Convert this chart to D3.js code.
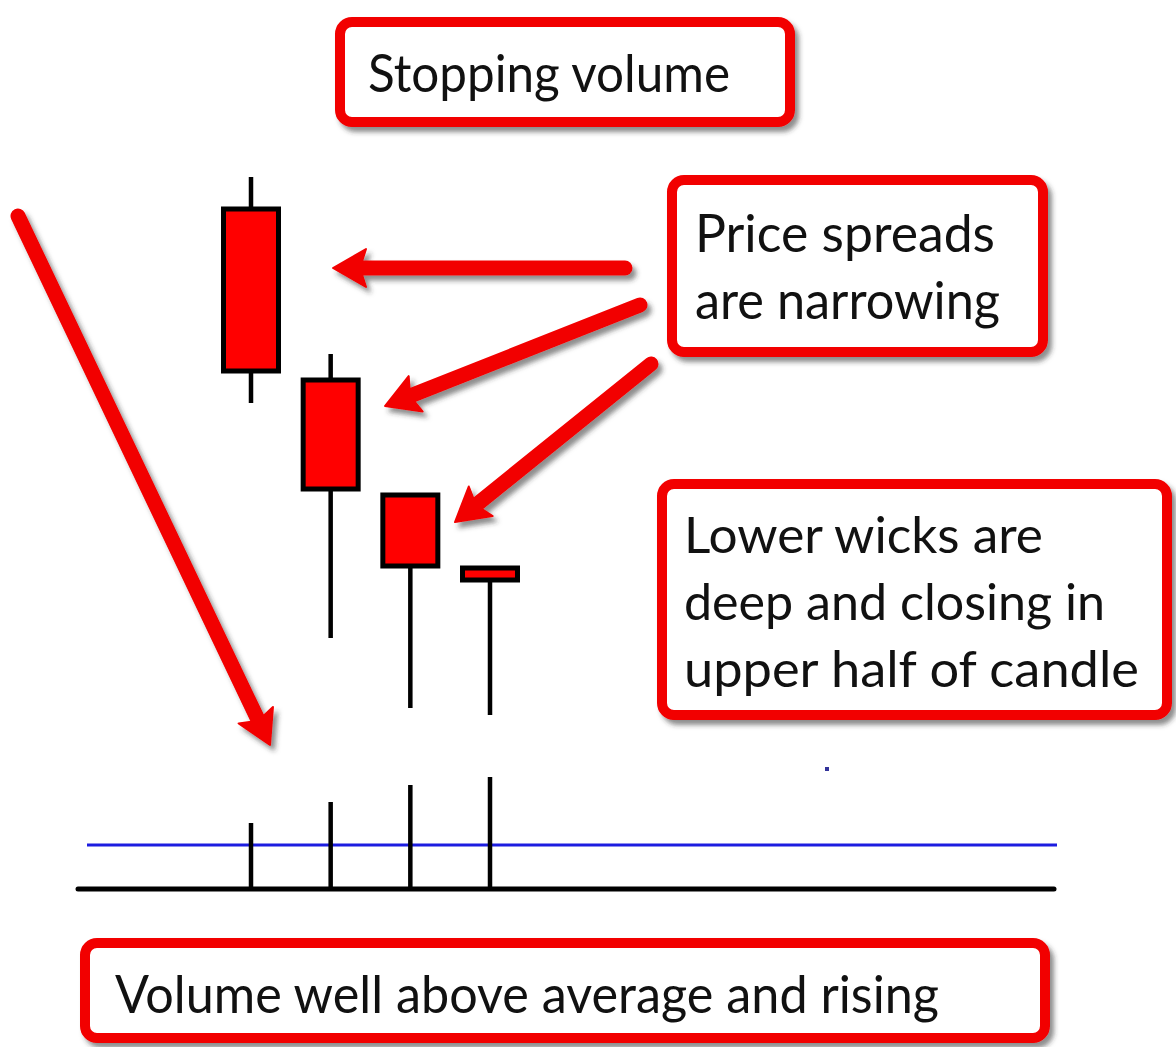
<!DOCTYPE html>
<html>
<head>
<meta charset="utf-8">
<script src="https://cdn.jsdelivr.net/npm/d3@7"></script>
<style>
  html, body { margin: 0; padding: 0; background: #fff; }
  svg { display: block; }
  .note { font-family: "Comic Sans MS", "Lato", "Open Sans", sans-serif; fill: #111; }
</style>
</head>
<body>
<script>
// Four bearish bars closing into a stopping-volume climax
const bars = ["Bar 1", "Bar 2", "Bar 3", "Bar 4"];
const openPrices  = [591, 420, 305, 232];
const closePrices = [429, 311, 234, 220];
const highPrices  = [623, 446, 305, 232];
const lowPrices   = [397, 162, 92, 85];
const volumes     = [66, 87, 104, 112];
const averageVolume = 44;

// Callout texts
const titleLines   = ["Stopping volume"];
const spreadLines  = ["Price spreads", "are narrowing"];
const wickLines    = ["Lower wicks are", "deep and closing in", "upper half of candle"];
const volumeLines  = ["Volume well above average and rising"];

const W = 1176, H = 1047;
const RED = "#f20000";

const svg = d3.select("body").append("svg")
  .attr("width", W).attr("height", H)
  .attr("viewBox", `0 0 ${W} ${H}`);

svg.append("rect").attr("width", W).attr("height", H).attr("fill", "#fff");

// soft drop shadow used by callouts and arrows
const defs = svg.append("defs");
const f = defs.append("filter").attr("id", "shadow")
  .attr("x", "-10%").attr("y", "-10%").attr("width", "130%").attr("height", "130%");
f.append("feDropShadow").attr("dx", 4).attr("dy", 5).attr("stdDeviation", 2.5)
  .attr("flood-color", "#333").attr("flood-opacity", 0.55);

// scales
const x = d3.scalePoint().domain(bars).range([251, 490]);
const yPrice = d3.scaleLinear().domain([0, 650]).range([800, 150]);
const yVol = d3.scaleLinear().domain([0, 150]).range([889, 739]);
const bodyW = 55;

// ---- volume panel ----
const volG = svg.append("g");
volG.append("line")
  .attr("x1", 87).attr("x2", 1057)
  .attr("y1", yVol(averageVolume)).attr("y2", yVol(averageVolume))
  .attr("stroke", "#1c1ce0").attr("stroke-width", 3);

volG.selectAll("line.vol").data(volumes).join("line")
  .attr("class", "vol")
  .attr("x1", (d, i) => x(bars[i])).attr("x2", (d, i) => x(bars[i]))
  .attr("y1", yVol(0)).attr("y2", d => yVol(d))
  .attr("stroke", "#000").attr("stroke-width", 4.5);

volG.append("line")
  .attr("x1", 78).attr("x2", 1054)
  .attr("y1", yVol(0)).attr("y2", yVol(0))
  .attr("stroke", "#000").attr("stroke-width", 5)
  .attr("stroke-linecap", "round");

// stray marker dot
svg.append("rect").attr("x", 825).attr("y", 767).attr("width", 4).attr("height", 4)
  .attr("fill", "#33339a");

// ---- candles ----
const candles = bars.map((b, i) => ({
  bar: b, open: openPrices[i], close: closePrices[i], high: highPrices[i], low: lowPrices[i]
}));
const cg = svg.append("g").selectAll("g").data(candles).join("g");
cg.append("line")
  .attr("x1", d => x(d.bar)).attr("x2", d => x(d.bar))
  .attr("y1", d => yPrice(d.high)).attr("y2", d => yPrice(d.low))
  .attr("stroke", "#000").attr("stroke-width", 4.5);
cg.append("rect")
  .attr("x", d => x(d.bar) - bodyW / 2)
  .attr("width", bodyW)
  .attr("y", d => yPrice(Math.max(d.open, d.close)))
  .attr("height", d => Math.abs(yPrice(d.open) - yPrice(d.close)))
  .attr("fill", "#ff0000").attr("stroke", "#000").attr("stroke-width", 5);

// ---- arrows ----
const arrows = [
  { from: [625, 268], to: [333, 268] },
  { from: [640, 305], to: [385, 406] },
  { from: [651, 364], to: [455, 522] },
  { from: [18, 216],  to: [270, 745] }
];
const ag = svg.append("g").attr("filter", "url(#shadow)");
arrows.forEach(a => {
  const [x0, y0] = a.from, [x1, y1] = a.to;
  const ang = Math.atan2(y1 - y0, x1 - x0);
  const headL = 33, headW = 19;
  const bx = x1 - headL * Math.cos(ang), by = y1 - headL * Math.sin(ang);
  ag.append("line")
    .attr("x1", x0).attr("y1", y0)
    .attr("x2", bx + 4 * Math.cos(ang)).attr("y2", by + 4 * Math.sin(ang))
    .attr("stroke", RED).attr("stroke-width", 15).attr("stroke-linecap", "round");
  const px = -Math.sin(ang), py = Math.cos(ang);
  const pts = [
    [x1, y1],
    [bx + headW * px, by + headW * py],
    [bx + 6 * Math.cos(ang), by + 6 * Math.sin(ang)],
    [bx - headW * px, by - headW * py]
  ];
  ag.append("path")
    .attr("d", "M" + pts.map(p => p.join(",")).join("L") + "Z")
    .attr("fill", RED).attr("stroke", RED).attr("stroke-width", 2)
    .attr("stroke-linejoin", "round");
});

// ---- callouts ----
const callouts = [
  { box: [335, 17, 795, 127],   lines: titleLines,  size: 52,
    text: [{ x: 368, y: 92, len: 362 }] },
  { box: [667, 175, 1048, 357], lines: spreadLines, size: 52,
    text: [{ x: 695, y: 252, len: 300 }, { x: 695, y: 319, len: 305 }] },
  { box: [657, 479, 1172, 720], lines: wickLines,   size: 50,
    text: [{ x: 684, y: 553, len: 359 }, { x: 684, y: 620, len: 421 }, { x: 684, y: 687, len: 455 }] },
  { box: [80, 938, 1050, 1043], lines: volumeLines, size: 52,
    text: [{ x: 115, y: 1013, len: 824 }] }
];
callouts.forEach(c => {
  const [l, t, r, b] = c.box;
  svg.append("rect")
    .attr("x", l + 5).attr("y", t + 5)
    .attr("width", r - l - 10).attr("height", b - t - 10)
    .attr("rx", 12).attr("ry", 12)
    .attr("fill", "#fff").attr("stroke", RED).attr("stroke-width", 10)
    .attr("filter", "url(#shadow)");
  c.lines.forEach((s, i) => {
    const p = c.text[i];
    svg.append("text").attr("class", "note")
      .attr("x", p.x).attr("y", p.y)
      .attr("font-size", c.size)
      .attr("textLength", p.len)
      .attr("lengthAdjust", "spacingAndGlyphs")
      .text(s);
  });
});
</script>
</body>
</html>
